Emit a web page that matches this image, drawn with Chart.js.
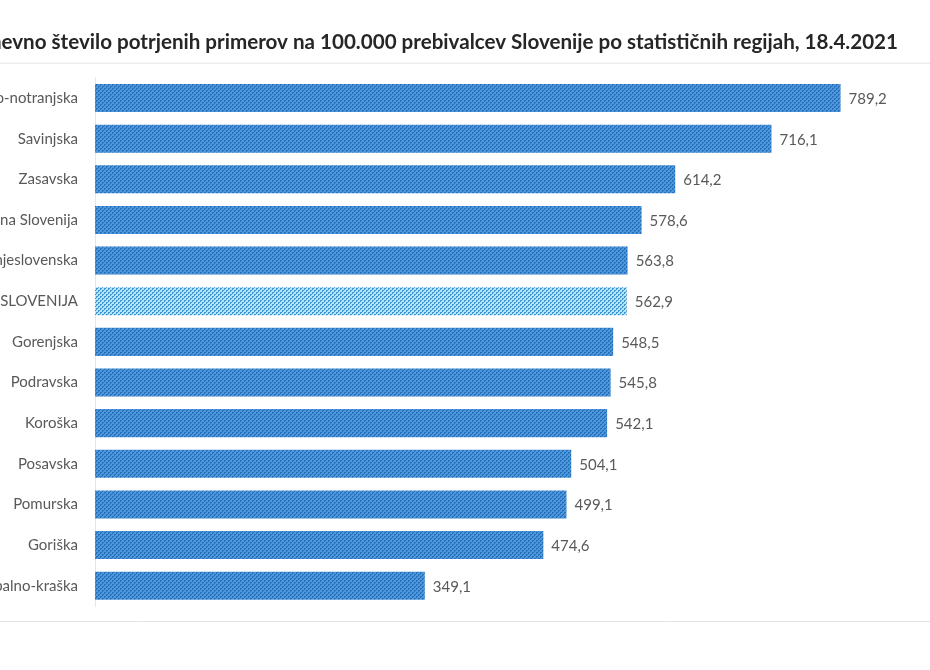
<!DOCTYPE html>
<html>
<head>
<meta charset="utf-8">
<script src="https://cdn.jsdelivr.net/npm/chart.js@4"></script>
<style>
  html, body { margin: 0; padding: 0; background: #fff; overflow: hidden; }
  #wrap { position: relative; width: 930px; height: 670px; overflow: hidden; }
  #chart { position: absolute; left: -120px; top: 0; }
</style>
</head>
<body>
<div id="wrap"><canvas id="chart" width="1050" height="670"></canvas></div>
<script>
const regions = ['Primorsko-notranjska', 'Savinjska', 'Zasavska', 'Jugovzhodna Slovenija',
    'Osrednjeslovenska', 'SLOVENIJA', 'Gorenjska', 'Podravska', 'Koroška', 'Posavska',
    'Pomurska', 'Goriška', 'Obalno-kraška'];
const cases = [789.2, 716.1, 614.2, 578.6, 563.8, 562.9, 548.5, 545.8, 542.1, 504.1,
    499.1, 474.6, 349.1];
const highlight = 'SLOVENIJA';
const chartTitle = '14-dnevno število potrjenih primerov na 100.000 prebivalcev Slovenije po statističnih regijah, 18.4.2021';

// small dotted tile, like the Excel pattern fill
function makePattern(base, dot) {
    const c = document.createElement('canvas');
    c.width = 4;
    c.height = 4;
    const g = c.getContext('2d');
    g.fillStyle = base;
    g.fillRect(0, 0, 4, 4);
    g.fillStyle = dot;
    const cells = [[0, 0], [1, 0], [0, 1], [2, 2], [3, 2], [2, 3]];
    cells.forEach(([x, y]) => g.fillRect(x, y, 1, 1));
    return g.createPattern(c, 'repeat');
}

const valueLabels = {
    id: 'valueLabels',
    afterDatasetsDraw(chart) {
        const ctx = chart.ctx;
        const meta = chart.getDatasetMeta(0);
        ctx.save();
        ctx.font = '15px Lato';
        ctx.fillStyle = '#595959';
        ctx.textAlign = 'left';
        ctx.textBaseline = 'middle';
        meta.data.forEach((bar, i) => {
            ctx.fillText(cases[i].toFixed(1).replace('.', ','), bar.x + 8, bar.y + 1);
        });
        ctx.restore();
    }
};

const frameLines = {
    id: 'frameLines',
    beforeDraw(chart) {
        const {ctx, chartArea} = chart;
        ctx.save();
        ctx.strokeStyle = '#e3e3e3';
        ctx.lineWidth = 1;
        [chartArea.top - 14.5, chartArea.bottom + 15.5].forEach(y => {
            ctx.beginPath();
            ctx.moveTo(0, y);
            ctx.lineTo(chart.width, y);
            ctx.stroke();
        });
        ctx.restore();
    }
};

document.addEventListener('DOMContentLoaded', function() {
    const blue = makePattern('#4a98dd', '#2a6fb8');
    const light = makePattern('#b3e3f5', '#3f96d3');

    new Chart(document.getElementById('chart').getContext('2d'), {
        type: 'bar',
        data: {
            labels: regions,
            datasets: [{
                data: cases,
                backgroundColor: regions.map(r => r === highlight ? light : blue),
                borderWidth: 0,
                barPercentage: 0.69,
                categoryPercentage: 1.0
            }]
        },
        options: {
            indexAxis: 'y',
            responsive: false,
            animation: false,
            layout: {
                padding: { left: 0, right: 32, top: 0, bottom: 64 }
            },
            plugins: {
                legend: { display: false },
                tooltip: { enabled: false },
                title: {
                    display: true,
                    text: chartTitle,
                    align: 'end',
                    color: '#262626',
                    font: { family: 'Lato', size: 20.6, weight: 'bold' },
                    padding: { top: 30, bottom: 23 }
                }
            },
            scales: {
                x: {
                    display: false,
                    min: 0,
                    max: 850
                },
                y: {
                    afterFit(scale) { scale.width = 215; },
                    grid: { display: false, drawTicks: false },
                    border: { display: true, color: '#e6e6e6', width: 1 },
                    ticks: {
                        color: '#595959',
                        padding: 17,
                        font: { family: 'Lato', size: 15 }
                    }
                }
            }
        },
        plugins: [frameLines, valueLabels]
    });
});
</script>
</body>
</html>
